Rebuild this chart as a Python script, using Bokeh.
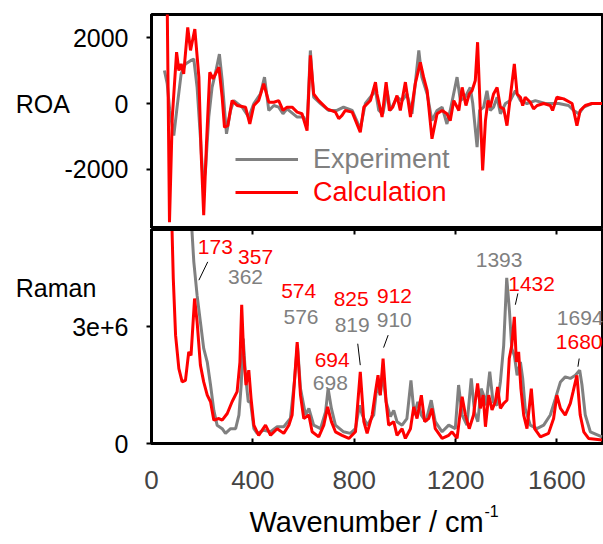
from bokeh.plotting import figure
from bokeh.models import (Range1d, FixedTicker, Label, Legend, LegendItem,
                          LinearAxis, ColumnDataSource)
from bokeh.layouts import column
from bokeh.embed import file_html
from bokeh.resources import INLINE
from bokeh.core.properties import value

# ---------------- data ----------------
roa_exp_x = [51, 62, 72, 88, 101, 117, 134, 154, 167, 180, 193, 204, 213, 226, 239, 256, 268, 279, 296, 312,
             325, 358, 384, 404, 430, 446, 463, 483, 502, 519, 535, 575, 601, 614, 627, 640, 667, 699, 732, 758,
             792, 824, 844, 884, 897, 913, 930, 943, 969, 989, 1008, 1028, 1041, 1055, 1067, 1088, 1107, 1127,
             1147, 1166, 1179, 1206, 1219, 1238, 1258, 1268, 1285, 1295, 1311, 1324, 1337, 1350, 1364, 1377,
             1397, 1416, 1436, 1456, 1482, 1515, 1554, 1607, 1646, 1666, 1686, 1706, 1738, 1778]
roa_exp_y = [1000, 600, -210, -970, -110, 900, 1200, 1300, 1350, 490, -1020, -2430, -2030, -410, 490, 1050, 1500,
             700, -920, -210, 90, -110, -410, 0, 290, 800, -210, -60, -110, -310, -160, -410, -410, -670, 1610,
             190, 0, -210, -210, -110, -210, -770, 0, 390, -210, -310, 390, -210, 190, 90, 290, -310, 600, 1610,
             800, 290, -520, -210, -110, -620, -210, 800, 90, 190, 490, 0, -1320, -210, -110, 390, -210, -110,
             190, -310, 0, 90, 390, 90, 0, 90, 0, 0, -60, -210, -310, -110, 0, 0]

roa_calc_x = [62, 71, 82, 99, 108, 117, 127, 143, 154, 171, 187, 196, 206, 217, 230, 243, 266, 279, 288, 301,
              318, 338, 371, 388, 404, 423, 443, 463, 483, 502, 519, 535, 555, 575, 594, 614, 627, 640, 660, 693,
              726, 739, 752, 765, 792, 824, 838, 864, 884, 890, 910, 926, 939, 952, 969, 982, 1002, 1022, 1041,
              1061, 1074, 1088, 1107, 1127, 1147, 1166, 1179, 1193, 1213, 1226, 1241, 1254, 1265, 1278, 1287,
              1295, 1307, 1318, 1328, 1337, 1350, 1364, 1377, 1390, 1403, 1416, 1432, 1443, 1456, 1465, 1475,
              1495, 1508, 1522, 1548, 1574, 1583, 1600, 1627, 1660, 1679, 1692, 1712, 1738, 1778]
roa_calc_y = [3000, -3600, -420, 1560, 1000, 1200, 900, 2310, 1610, 2260, 800, -1520, -3390, -1210, 950, 750,
              1100, 190, -720, -670, 90, -60, -110, -620, -60, 90, 600, 40, 40, 90, -210, -110, -110, -260, -310,
              -820, 1460, 290, 90, -160, -260, -460, -360, -210, -260, -870, -110, 90, 650, 290, -410, 650, -210,
              -110, 240, -210, 650, -410, 600, 1250, 800, 390, -1070, -310, -210, -310, -520, 90, -210, 490, -60,
              290, 390, 700, 1860, 290, -2030, -520, 90, -110, 290, 490, -110, -160, -670, 190, 1200, 290, 190,
              -60, 190, 40, -160, -60, 0, -60, -210, 190, 140, 0, -670, -210, -60, 0, 0]

# Raman intensities in units of 1e6
raman_exp_x = [150, 167, 180, 193, 206, 220, 233, 246, 259, 279, 292, 312, 332, 345, 354, 362, 371, 382, 391, 404,
               417, 443, 470, 496, 522, 548, 564, 576, 588, 608, 621, 640, 667, 687, 697, 710, 726, 758, 785, 805,
               821, 832, 851, 877, 890, 903, 912, 926, 943, 956, 969, 989, 1008, 1024, 1037, 1051, 1065, 1083,
               1104, 1120, 1147, 1173, 1199, 1212, 1226, 1245, 1262, 1275, 1288, 1301, 1311, 1320, 1335, 1348,
               1364, 1377, 1390, 1402, 1413, 1422, 1432, 1443, 1456, 1465, 1475, 1495, 1521, 1548, 1574, 1594,
               1614, 1633, 1653, 1673, 1690, 1699, 1712, 1732, 1778]
raman_exp_y = [6.5, 4.66, 3.80, 3.12, 2.44, 2.09, 1.50, 0.85, 0.47, 0.38, 0.26, 0.38, 0.38, 0.73, 1.50, 2.69,
               1.75, 1.07, 1.07, 0.38, 0.26, 0.34, 0.30, 0.43, 0.43, 0.64, 1.58, 2.54, 1.41, 0.73, 0.90, 0.47,
               0.38, 0.81, 1.41, 0.90, 0.47, 0.30, 0.26, 0.38, 0.98, 0.73, 0.47, 0.73, 1.50, 1.24, 1.84, 1.07,
               0.69, 0.85, 0.56, 0.47, 0.64, 1.62, 0.73, 1.07, 0.73, 0.56, 1.11, 0.56, 0.30, 0.47, 0.38, 1.50,
               0.73, 0.47, 1.67, 0.81, 0.56, 1.41, 1.24, 0.98, 1.84, 1.07, 0.98, 1.58, 2.52, 4.25, 3.38, 2.44,
               2.26, 1.75, 2.09, 1.67, 0.90, 0.47, 0.38, 0.47, 0.73, 1.15, 1.58, 1.71, 1.67, 1.75, 1.88, 1.50,
               0.73, 0.30, 0.17]

raman_calc_x = [75, 86, 95, 108, 121, 134, 147, 156, 170, 180, 193, 206, 220, 233, 246, 266, 279, 299, 318, 338,
                349, 356, 364, 373, 384, 393, 404, 423, 450, 470, 496, 522, 542, 555, 564, 575, 588, 601, 621,
                634, 660, 680, 695, 710, 726, 752, 779, 805, 824, 838, 851, 871, 884, 894, 903, 914, 926, 936,
                956, 969, 989, 1002, 1022, 1035, 1048, 1065, 1078, 1094, 1107, 1120, 1147, 1173, 1186, 1206,
                1226, 1239, 1254, 1271, 1287, 1298, 1309, 1318, 1331, 1344, 1357, 1366, 1377, 1390, 1403, 1412,
                1422, 1432, 1440, 1449, 1458, 1469, 1482, 1499, 1512, 1535, 1567, 1587, 1600, 1614, 1633, 1653,
                1664, 1679, 1692, 1706, 1725, 1778]
raman_calc_y = [7.0, 4.23, 2.78, 1.92, 1.58, 1.62, 2.35, 2.26, 3.72, 3.12, 2.01, 1.58, 1.24, 1.07, 0.60, 0.64,
                0.60, 0.77, 1.07, 1.33, 2.09, 3.56, 2.26, 1.50, 1.88, 1.15, 0.47, 0.21, 0.47, 0.21, 0.38, 0.26,
                0.47, 0.73, 1.58, 2.60, 1.24, 0.64, 0.73, 0.30, 0.17, 0.47, 0.94, 0.56, 0.30, 0.21, 0.13, 0.30,
                1.84, 0.56, 0.26, 0.73, 1.33, 1.75, 1.24, 2.18, 1.07, 0.47, 0.56, 0.21, 0.38, 0.13, 0.38, 0.94,
                0.64, 1.24, 0.56, 0.64, 0.90, 0.38, 0.13, 0.21, 0.30, 0.13, 1.20, 0.73, 0.38, 0.73, 1.54, 0.90,
                1.24, 0.43, 1.24, 0.86, 1.07, 1.45, 0.90, 1.03, 1.11, 2.18, 2.52, 3.25, 2.09, 2.35, 1.41, 0.73,
                0.38, 1.41, 0.38, 0.17, 0.26, 0.64, 1.24, 0.90, 0.73, 1.03, 1.33, 1.75, 0.73, 0.30, 0.13, 0.09]

# peak annotations
ann_text = ["173", "357", "362", "574", "576", "825", "819", "912", "910", "694", "698", "1393", "1432", "1694", "1680"]
ann_x = [252, 411, 371, 581, 590, 788, 792, 959, 958, 713, 706, 1372, 1500, 1692, 1688]
ann_y = [5.05, 4.79, 4.27, 3.90, 3.24, 3.70, 3.03, 3.78, 3.16, 2.14, 1.54, 4.70, 4.10, 3.23, 2.61]
ann_series = ["calc", "calc", "exp", "calc", "exp", "calc", "exp", "calc", "exp", "calc", "exp", "exp", "calc", "exp", "calc"]

lead_x0 = [222, 814, 934, 1446, 1688]
lead_y0 = [4.66, 2.56, 2.78, 3.85, 2.18]
lead_x1 = [187, 824, 916, 1436, 1683]
lead_y1 = [4.19, 2.01, 2.46, 3.56, 1.97]

x_ticks = [0, 400, 800, 1200, 1600]
roa_ticks = [-2000, 0, 2000]
roa_tick_labels = ["-2000", "0", "2000"]
raman_ticks = [0, 3000000]
raman_tick_labels = ["0", "3e+6"]

# panel titles (placed at left of each panel, at the given data y)
roa_title, roa_title_y = "ROA", 0
raman_title, raman_title_y = "Raman", 4.0

# ---------------- styling ----------------
FONT = "Liberation Sans"
GRAY = "#808080"
RED = "#ff0000"
COLORS = {"exp": GRAY, "calc": RED}
SCALE = 1e6
W = 603

x_range = Range1d(0, 1780)


def style_left_axis(ax):
    ax.axis_line_width = 3
    ax.major_tick_line_width = 2
    ax.major_tick_out = 5
    ax.major_tick_in = 0
    ax.minor_tick_line_color = None
    ax.major_label_text_font = FONT
    ax.major_label_text_font_size = "25px"
    ax.major_label_text_color = "black"
    ax.major_label_standoff = 18


def canvas_label(fig, side, x, y, text, size, color="black"):
    lab = Label(x=x, y=y, x_units="canvas", y_units="canvas", text=text,
                text_font=FONT, text_font_size=size, text_color=color,
                text_baseline="middle", text_align="left")
    fig.add_layout(lab, side)


def panel_title(fig, text, y):
    # text anchored at the frame's left edge and shifted left (unclipped level)
    fig.text(x=[1], y=[y], text=[text], x_offset=-136, text_font=value(FONT),
             text_font_size="25px", text_color="black", text_align="left",
             text_baseline="middle", level="annotation")


# ---- top panel: ROA ----
top = figure(width=W, height=228, x_range=x_range, y_range=Range1d(-3790, 2700),
             output_backend="svg", toolbar_location=None, x_axis_type=None,
             min_border_left=151, min_border_right=1, min_border_top=14, min_border_bottom=0)
top.grid.visible = False
top.outline_line_color = "black"
top.outline_line_width = 3
top.yaxis.ticker = FixedTicker(ticks=roa_ticks)
top.yaxis.major_label_overrides = {t: s for t, s in zip(roa_ticks, roa_tick_labels)}
style_left_axis(top.yaxis[0])

r_exp = top.line(roa_exp_x, roa_exp_y, line_color=GRAY, line_width=3)
r_calc = top.line(roa_calc_x, roa_calc_y, line_color=RED, line_width=3)

for item_label, rend, col, yloc in [("Experiment", r_exp, GRAY, 53), ("Calculation", r_calc, RED, 20)]:
    leg = Legend(items=[LegendItem(label=item_label, renderers=[rend])], location=(84, yloc),
                 background_fill_alpha=0, border_line_color=None, padding=0, margin=0, spacing=0,
                 glyph_width=63, glyph_height=32, label_height=32, label_standoff=15,
                 label_text_font=FONT, label_text_font_size="27px", label_text_color=col)
    top.add_layout(leg)

panel_title(top, roa_title, roa_title_y)

# ---- bottom panel: Raman ----
bot = figure(width=W, height=316, x_range=x_range, y_range=Range1d(0, 5.49e6),
             output_backend="svg", toolbar_location=None,
             min_border_left=151, min_border_right=1, min_border_top=1, min_border_bottom=101)
bot.grid.visible = False
bot.outline_line_color = "black"
bot.outline_line_width = 3
bot.yaxis.ticker = FixedTicker(ticks=raman_ticks)
bot.yaxis.major_label_overrides = {t: s for t, s in zip(raman_ticks, raman_tick_labels)}
style_left_axis(bot.yaxis[0])

xa = bot.xaxis[0]
xa.ticker = FixedTicker(ticks=x_ticks)
xa.axis_line_width = 3
xa.major_tick_line_width = 2
xa.major_tick_in = 5
xa.major_tick_out = 0
xa.minor_tick_line_color = None
xa.major_label_text_font = FONT
xa.major_label_text_font_size = "26px"
xa.major_label_standoff = 27

top_ax = LinearAxis(ticker=FixedTicker(ticks=x_ticks), axis_line_width=3, major_tick_line_width=2,
                    major_tick_in=5, major_tick_out=0, minor_tick_line_color=None,
                    major_label_text_font_size="0px", major_label_standoff=0,
                    major_label_overrides={t: "" for t in x_ticks})
bot.add_layout(top_ax, "above")

bot.line(raman_exp_x, [v * SCALE for v in raman_exp_y], line_color=GRAY, line_width=3)
bot.line(raman_calc_x, [v * SCALE for v in raman_calc_y], line_color=RED, line_width=3)

src = ColumnDataSource(dict(x=ann_x, y=[v * SCALE for v in ann_y], t=ann_text,
                            c=[COLORS[s] for s in ann_series]))
bot.text(x="x", y="y", text="t", text_color="c", source=src, text_font=value(FONT),
         text_font_size="21px", text_align="center", text_baseline="middle")
bot.segment(x0=lead_x0, y0=[v * SCALE for v in lead_y0], x1=lead_x1, y1=[v * SCALE for v in lead_y1],
            line_color="black", line_width=1)

panel_title(bot, raman_title, raman_title_y * SCALE)
canvas_label(bot, "below", 249, 293, "Wavenumber / cm", "29px")
canvas_label(bot, "below", 484, 282, "-1", "16px")

layout = column(top, bot, spacing=0)
open("out.html", "w").write(file_html(layout, INLINE))
